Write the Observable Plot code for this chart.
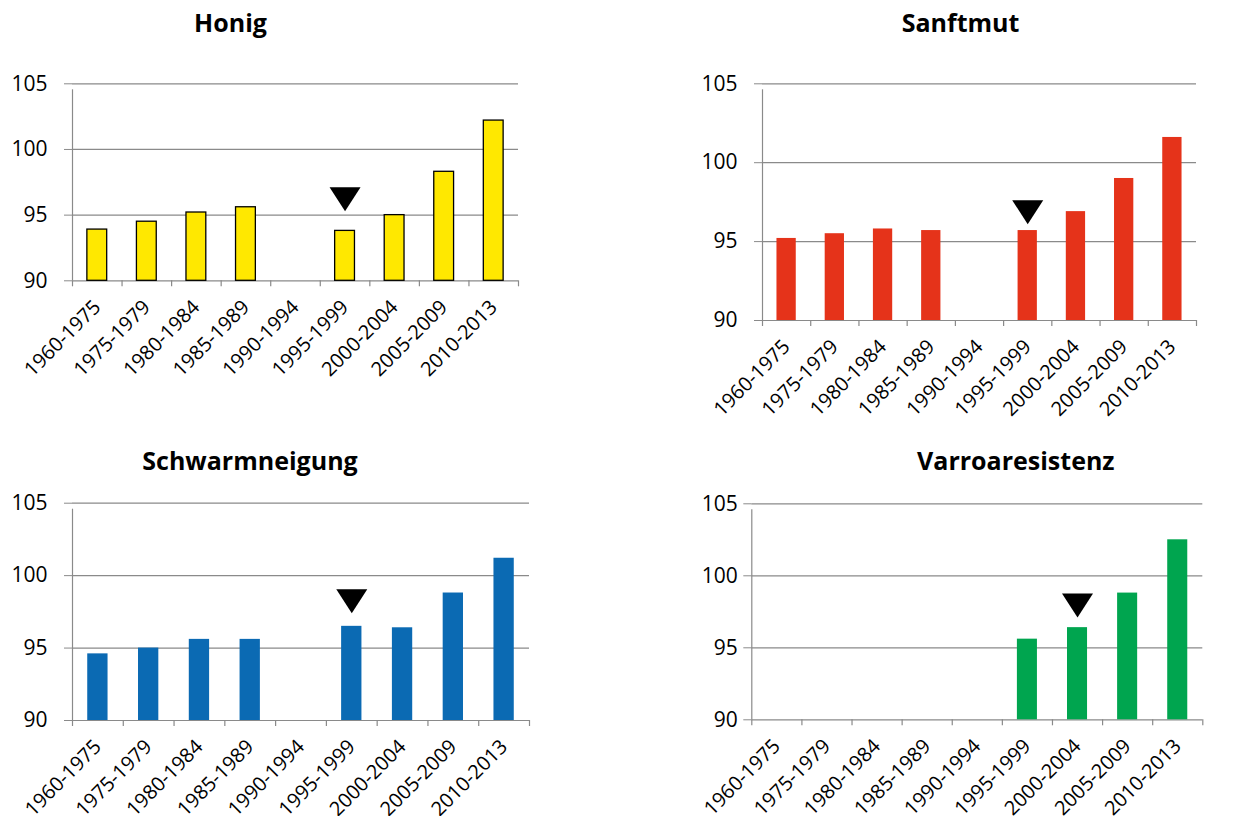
<!DOCTYPE html>
<html>
<head>
<meta charset="utf-8">
<script src="https://cdn.jsdelivr.net/npm/d3@7"></script>
<script src="https://cdn.jsdelivr.net/npm/@observablehq/plot@0.6"></script>
<style>
  html, body { margin: 0; padding: 0; background: #fff; }
  #root { position: relative; width: 1235px; height: 816px; overflow: hidden; background: #fff; }
  .title { position: absolute; width: 400px; text-align: center; font-family: "Open Sans", sans-serif; font-weight: 700; font-size: 25px; line-height: 25px; color: #000; white-space: nowrap; }
  #root svg { position: absolute; }
  #root svg text { fill: #000; }
</style>
</head>
<body>
<div id="root"></div>
<script>
// ---- data ----
const periods = ["1960-1975","1975-1979","1980-1984","1985-1989","1990-1994","1995-1999","2000-2004","2005-2009","2010-2013"];
const honig          = [93.9, 94.5, 95.2, 95.6, null, 93.8, 95.0, 98.3, 102.2];
const sanftmut       = [95.2, 95.5, 95.8, 95.7, null, 95.7, 96.9, 99.0, 101.6];
const schwarmneigung = [94.6, 95.0, 95.6, 95.6, null, 96.5, 96.4, 98.8, 101.2];
const varroaresistenz= [null, null, null, null, null, 95.6, 96.4, 98.8, 102.5];
const titles = ["Honig", "Sanftmut", "Schwarmneigung", "Varroaresistenz"];
const markerPeriods = ["1995-1999", "1995-1999", "1995-1999", "2000-2004"];
const markerValues = [95.3, 96.1, 97.4, 97.1];
const yTicks = [90, 95, 100, 105];
const yDomain = [90, 105];

// ---- styles / layout ----
const colors = ["#FFE800", "#E5331A", "#0B6AB3", "#00A54F"];
const barStrokes = ["#000", "none", "none", "none"];
const series = [honig, sanftmut, schwarmneigung, varroaresistenz];
const layouts = [
  {left: 0,   top: 60,  width: 530, height: 330, mt: 23.3, mb: 109.7, ml: 72,   mr: 12,   pad: 17, tx: 230.5, tt: 10.4},
  {left: 690, top: 60,  width: 545, height: 360, mt: 23.3, mb: 100,   ml: 72,   mr: 39,   pad: 17, tx: 960.5, tt: 10.4},
  {left: 0,   top: 480, width: 545, height: 336, mt: 22.7, mb: 96,    ml: 72,   mr: 16,   pad: 17, tx: 250,   tt: 448},
  {left: 690, top: 480, width: 545, height: 336, mt: 23.3, mb: 96.7,  ml: 61.3, mr: 32.7, pad: 6,  tx: 1015.8,tt: 448}
];
const gray = "#8a8a8a";

// downward triangle whose tip sits on the anchor point
const downTriangle = {
  draw(context, size) {
    const r = Math.sqrt(size / Math.PI);
    context.moveTo(0, 0);
    context.lineTo(-r, -1.55 * r);
    context.lineTo(r, -1.55 * r);
    context.closePath();
  }
};

const root = document.getElementById("root");

series.forEach((vals, k) => {
  const L = layouts[k];
  const data = periods.map((p, i) => ({period: p, value: vals[i]})).filter(d => d.value != null);
  const step = (L.width - L.ml - L.mr) / periods.length;
  const chart = Plot.plot({
    width: L.width,
    height: L.height,
    marginTop: L.mt,
    marginBottom: L.mb,
    marginLeft: L.ml,
    marginRight: L.mr,
    style: {fontFamily: "Open Sans, sans-serif", fontSize: "20px", color: gray, background: "transparent", overflow: "visible"},
    x: {domain: periods, paddingInner: 0.6, paddingOuter: 0.3, align: 0.5, round: false, label: null},
    y: {domain: yDomain, label: null},
    marks: [
      Plot.ruleY(yTicks, {stroke: gray, strokeWidth: 1.2}),
      Plot.axisY(yTicks, {tickSize: 8, tickPadding: L.pad, fontSize: 21, label: null}),
      Plot.axisX({tickSize: 0, tickRotate: -45, tickPadding: 23, fontSize: 20, label: null}),
      Plot.ruleX([periods[0]], {x: d => d, y1: yDomain[0], y2: yDomain[1], dx: -step / 2, insetBottom: -6, stroke: gray, strokeWidth: 1.2}),
      Plot.ruleX(periods, {x: d => d, y1: yDomain[0], y2: yDomain[0], dx: -step / 2, insetBottom: -6, stroke: gray, strokeWidth: 1.2}),
      Plot.ruleX([periods[periods.length - 1]], {x: d => d, y1: yDomain[0], y2: yDomain[0], dx: step / 2, insetBottom: -6, stroke: gray, strokeWidth: 1.2}),
      Plot.barY(data, {x: "period", y1: yDomain[0], y2: "value", fill: colors[k], stroke: barStrokes[k], strokeWidth: 1.3}),
      Plot.dot([{period: markerPeriods[k], value: markerValues[k]}], {x: "period", y: "value", symbol: downTriangle, r: 15.5, fill: "#000", stroke: "none"})
    ]
  });
  chart.style.left = L.left + "px";
  chart.style.top = L.top + "px";
  root.appendChild(chart);

  const t = document.createElement("div");
  t.className = "title";
  t.textContent = titles[k];
  t.style.left = (L.tx - 200) + "px";
  t.style.top = L.tt + "px";
  root.appendChild(t);
});
</script>
</body>
</html>
